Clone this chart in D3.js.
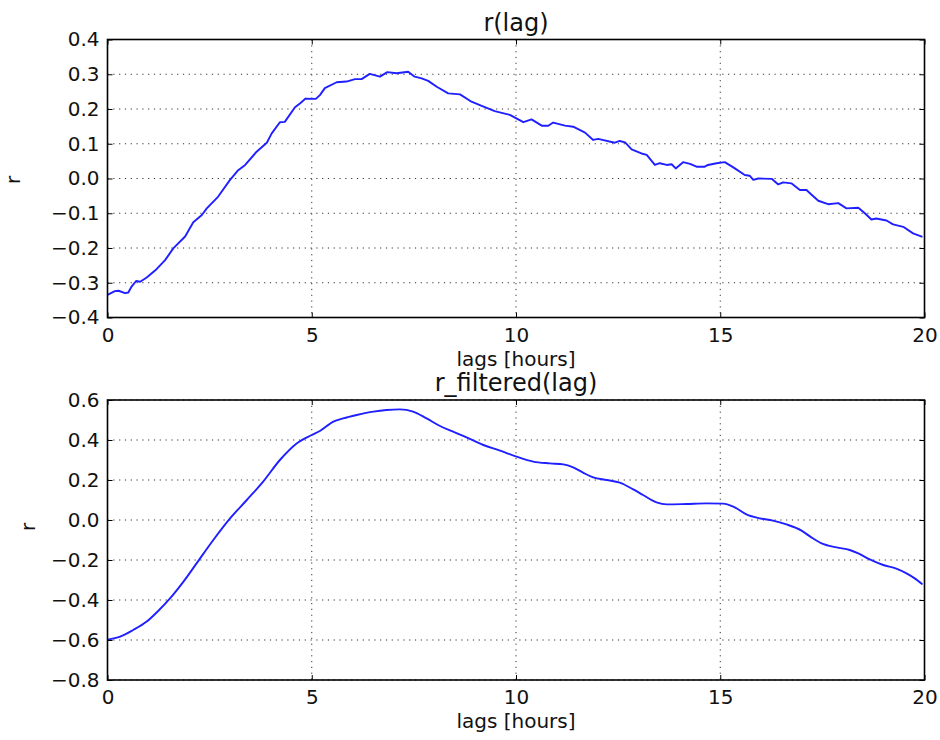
<!DOCTYPE html>
<html>
<head>
<meta charset="utf-8">
<script src="https://cdn.jsdelivr.net/npm/d3@7"></script>
<style>
  html, body { margin: 0; padding: 0; background: #fff; }
  svg { display: block; font-family: "DejaVu Sans", sans-serif; }
</style>
</head>
<body>
<svg id="chart" width="940" height="740"></svg>
<script>
// Raw cross-correlation r versus lag (hours)
const rawLag = [0.00,0.18,0.27,0.43,0.51,0.59,0.70,0.80,0.96,1.20,1.41,1.61,1.90,2.10,2.31,2.43,2.71,3.00,3.20,3.37,
  3.65,3.90,4.02,4.22,4.34,4.59,4.71,4.85,5.10,5.20,5.32,5.61,5.85,6.06,6.22,6.42,6.67,6.85,7.08,7.36,
  7.52,7.69,7.85,8.06,8.34,8.63,8.91,9.16,9.48,9.85,10.18,10.38,10.63,10.79,10.91,11.20,11.40,11.69,11.89,12.01,
  12.42,12.54,12.67,12.83,13.07,13.20,13.40,13.52,13.69,13.81,13.91,14.09,14.26,14.42,14.62,14.70,14.91,15.11,15.32,15.60,
  15.72,15.81,15.93,16.26,16.42,16.54,16.74,16.95,17.11,17.23,17.40,17.64,17.89,18.09,18.38,18.54,18.70,18.82,19.07,19.23,
  19.48,19.72,19.95];
const rawR = [-0.335,-0.324,-0.323,-0.330,-0.328,-0.311,-0.295,-0.297,-0.285,-0.261,-0.235,-0.201,-0.167,-0.126,-0.105,-0.086,-0.052,-0.004,0.024,0.039,
  0.077,0.103,0.130,0.162,0.163,0.205,0.216,0.230,0.229,0.240,0.260,0.277,0.279,0.286,0.286,0.301,0.293,0.306,0.303,0.307,
  0.293,0.288,0.281,0.264,0.245,0.242,0.221,0.209,0.194,0.183,0.162,0.170,0.152,0.152,0.161,0.152,0.149,0.132,0.111,0.114,
  0.103,0.108,0.104,0.084,0.072,0.068,0.039,0.044,0.039,0.041,0.029,0.047,0.042,0.034,0.034,0.039,0.044,0.047,0.032,0.010,
  0.008,-0.004,0.000,-0.001,-0.017,-0.011,-0.014,-0.033,-0.033,-0.046,-0.064,-0.074,-0.071,-0.086,-0.084,-0.100,-0.118,-0.115,-0.121,-0.132,
  -0.139,-0.158,-0.168];

// Filtered cross-correlation r versus lag (hours)
const filtLag = [0.00,0.31,0.63,0.96,1.24,1.53,1.86,2.18,2.59,3.00,3.41,3.81,4.22,4.63,5.00,5.20,5.53,5.77,6.10,6.51,
  6.83,7.16,7.48,7.81,8.14,8.46,8.79,9.20,9.61,10.01,10.42,10.83,11.16,11.40,11.64,11.89,12.22,12.54,12.87,13.11,
  13.44,13.69,14.17,14.66,15.07,15.32,15.64,15.97,16.29,16.62,16.99,17.23,17.48,17.85,18.17,18.38,18.66,18.99,19.31,19.56,
  19.76,19.95];
const filtR = [-0.598,-0.583,-0.550,-0.508,-0.455,-0.392,-0.308,-0.217,-0.100,0.008,0.100,0.192,0.300,0.383,0.425,0.445,0.492,0.508,0.525,0.542,
  0.550,0.553,0.542,0.508,0.470,0.442,0.413,0.375,0.347,0.317,0.292,0.283,0.278,0.263,0.237,0.213,0.200,0.187,0.153,0.125,
  0.088,0.078,0.080,0.083,0.082,0.067,0.028,0.008,-0.003,-0.022,-0.053,-0.087,-0.117,-0.137,-0.150,-0.167,-0.197,-0.225,-0.243,-0.267,
  -0.292,-0.322];

const xTicks = [0, 5, 10, 15, 20];
const topYTicks = [-0.4, -0.3, -0.2, -0.1, 0.0, 0.1, 0.2, 0.3, 0.4];
const botYTicks = [-0.8, -0.6, -0.4, -0.2, 0.0, 0.2, 0.4, 0.6];

const svg = d3.select("#chart");
const left = 107.5, right = 924.5;

const panels = [
  { title: "r(lag)", lag: rawLag, r: rawR, yTicks: topYTicks, top: 39.5, bottom: 317.5,
    curve: d3.curveLinear, ylabelX: 20, ylabelY: 180 },
  { title: "r_filtered(lag)", lag: filtLag, r: filtR, yTicks: botYTicks, top: 400, bottom: 680,
    curve: d3.curveMonotoneX, ylabelX: 35, ylabelY: 527 }
];

const fmt = d3.format(".1f");

panels.forEach(p => {
  const x = d3.scaleLinear().domain([0, 20]).range([left, right]);
  const y = d3.scaleLinear().domain([p.yTicks[0], p.yTicks[p.yTicks.length - 1]]).range([p.bottom, p.top]);
  const g = svg.append("g");

  // dotted grid
  g.append("g").selectAll("line.gy").data(p.yTicks).join("line")
    .attr("x1", left).attr("x2", right)
    .attr("y1", d => y(d)).attr("y2", d => y(d))
    .attr("stroke", "#333").attr("stroke-width", 1).attr("stroke-dasharray", "1.2,4.6");
  g.append("g").selectAll("line.gx").data(xTicks).join("line")
    .attr("x1", d => x(d)).attr("x2", d => x(d))
    .attr("y1", p.top).attr("y2", p.bottom)
    .attr("stroke", "#333").attr("stroke-width", 1).attr("stroke-dasharray", "1.2,4.6");

  // data line
  const line = d3.line().x((d, i) => x(p.lag[i])).y((d, i) => y(p.r[i])).curve(p.curve);
  g.append("path").datum(p.r)
    .attr("d", line)
    .attr("fill", "none").attr("stroke", "#1f1fff").attr("stroke-width", 1.9)
    .attr("stroke-linejoin", "round");

  // inward ticks on all four sides
  const axB = d3.axisBottom(x).tickValues(xTicks).tickSize(-5).tickPadding(10).tickFormat(d3.format("d"));
  const axT = d3.axisTop(x).tickValues(xTicks).tickSize(-5).tickFormat("");
  const axL = d3.axisLeft(y).tickValues(p.yTicks).tickSize(-5).tickPadding(8).tickFormat(fmt);
  const axR = d3.axisRight(y).tickValues(p.yTicks).tickSize(-5).tickFormat("");

  const styleAxis = sel => {
    sel.select(".domain").remove();
    sel.selectAll(".tick line").attr("stroke", "#000").attr("stroke-width", 1);
    sel.selectAll("text").attr("font-family", "DejaVu Sans, sans-serif").attr("font-size", 20).attr("fill", "#111");
  };
  g.append("g").attr("transform", `translate(0,${p.bottom})`).call(axB).call(styleAxis)
    .selectAll("text").attr("dy", "0.71em");
  g.append("g").attr("transform", `translate(0,${p.top})`).call(axT).call(styleAxis);
  g.append("g").attr("transform", `translate(${left},0)`).call(axL).call(styleAxis);
  g.append("g").attr("transform", `translate(${right},0)`).call(axR).call(styleAxis);

  // frame
  g.append("rect")
    .attr("x", left).attr("y", p.top)
    .attr("width", right - left).attr("height", p.bottom - p.top)
    .attr("fill", "none").attr("stroke", "#000").attr("stroke-width", 1.6);

  // title
  g.append("text")
    .attr("x", (left + right) / 2).attr("y", p.top - 9)
    .attr("text-anchor", "middle").attr("font-size", 24).attr("fill", "#111")
    .text(p.title);

  // axis labels
  g.append("text")
    .attr("x", (left + right) / 2).attr("y", p.bottom + 48)
    .attr("text-anchor", "middle").attr("font-size", 20).attr("fill", "#111")
    .text("lags [hours]");
  g.append("text")
    .attr("transform", `translate(${p.ylabelX},${p.ylabelY}) rotate(-90)`)
    .attr("text-anchor", "middle").attr("font-size", 20).attr("fill", "#111")
    .text("r");
});
</script>
</body>
</html>
